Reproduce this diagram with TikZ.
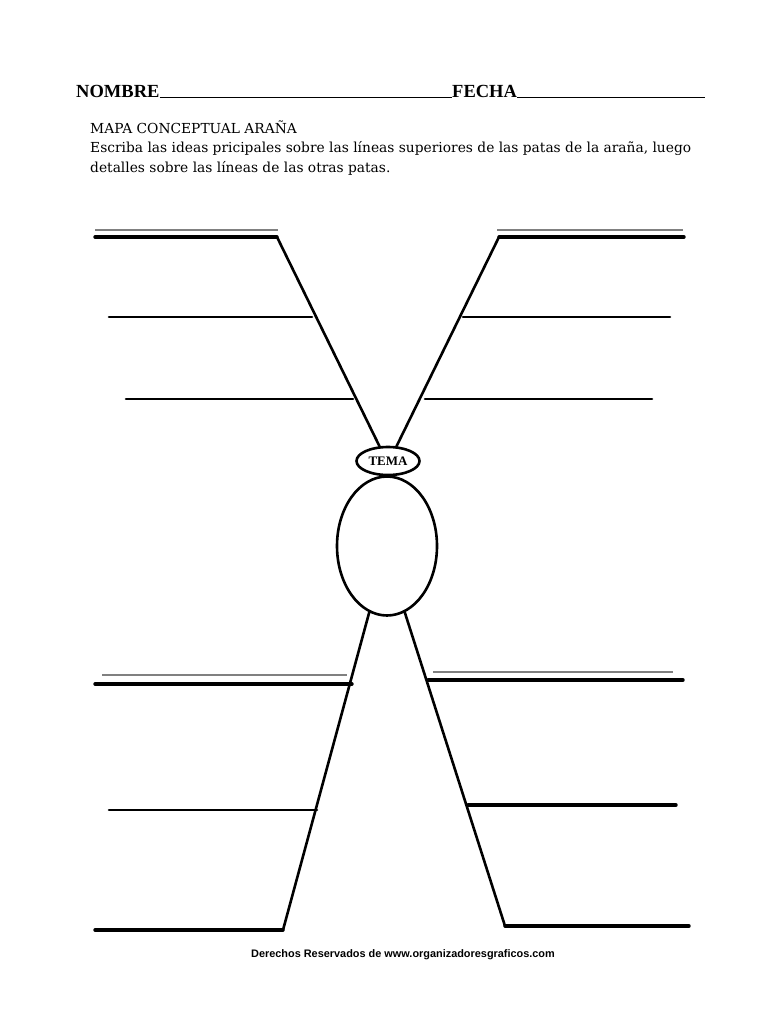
\documentclass[tikz,border=0pt]{standalone}
\usepackage{fontspec}
\setmainfont{Liberation Serif}
\setsansfont{Liberation Sans}
\newfontfamily\instrfont{DejaVu Serif}
\usetikzlibrary{shapes.geometric}
\begin{document}
\begin{tikzpicture}[x=1pt,y=-1pt,
  leg/.style={line width=2.6pt,line cap=round,line join=round},
  thickleg/.style={line width=3.4pt,line cap=round},
  grayline/.style={line width=1.8pt,draw=black!50},
  txt/.style={inner sep=0pt,anchor=base west},
  instr/.style={txt,font=\instrfont\fontsize{13.8}{16}\selectfont},
  body/.style={ellipse,draw,line width=2.6pt,inner sep=0pt}]
\useasboundingbox (0,0) rectangle (768,1024);
% header
\node[txt,font=\bfseries\fontsize{18.5}{20}\selectfont] (nombre) at (76,98) {NOMBRE};
\draw[line width=1pt] (nombre.base east) -- (452,98) coordinate (n2);
\node[txt,font=\bfseries\fontsize{18.5}{20}\selectfont] (fecha) at (n2) {FECHA};
\draw[line width=1pt] (fecha.base east) -- (705,98);
\node[instr] (t1) at (90,134) {MAPA CONCEPTUAL ARAÑA};
\node[instr] (t2) at (90,153) {Escriba las ideas pricipales sobre las líneas superiores de las patas de la araña, luego};
\node[instr] (t3) at (90,173) {detalles sobre las líneas de las otras patas.};
% body
\node[body,minimum width=63,minimum height=28,font=\bfseries\fontsize{13}{14}\selectfont] (tema) at (388,461) {TEMA};
\node[body,minimum width=100,minimum height=139] (abd) at (387,546) {};
% top-left leg
\coordinate (tl1) at (277,237);
\draw[grayline] (95,230) -- (278,230);
\draw[thickleg] (95,237) -- (tl1);
\draw[leg] (tl1) -- (tema.120);
\draw[leg] (109,317) -- (312,317);
\draw[leg] (126,399) -- (353,399);
% top-right leg
\coordinate (tr1) at (499,237);
\draw[grayline] (497,230) -- (683,230);
\draw[thickleg] (tr1) -- (684,237);
\draw[leg] (tr1) -- (tema.60);
\draw[leg] (463,317) -- (670,317);
\draw[leg] (425,399) -- (652,399);
% bottom-left leg
\coordinate (bl1) at (283,930);
\draw[leg] (abd.-105) -- (bl1);
\draw[grayline] (102,675) -- (347,675);
\draw[thickleg] (95,684) -- (352,684);
\draw[leg] (109,810) -- (317,810);
\draw[thickleg] (95,930) -- (bl1);
% bottom-right leg
\coordinate (br1) at (505,926);
\draw[leg] (abd.-75) -- (br1);
\draw[grayline] (433,672) -- (673,672);
\draw[thickleg] (428,680) -- (683,680);
\draw[thickleg] (468,805) -- (676,805);
\draw[thickleg] (br1) -- (689,926);
% footer
\node[font=\sffamily\bfseries\fontsize{10.9}{12}\selectfont,inner sep=0pt] (foot) at (403,955) {Derechos Reservados de www.organizadoresgraficos.com};
\end{tikzpicture}
\end{document}
